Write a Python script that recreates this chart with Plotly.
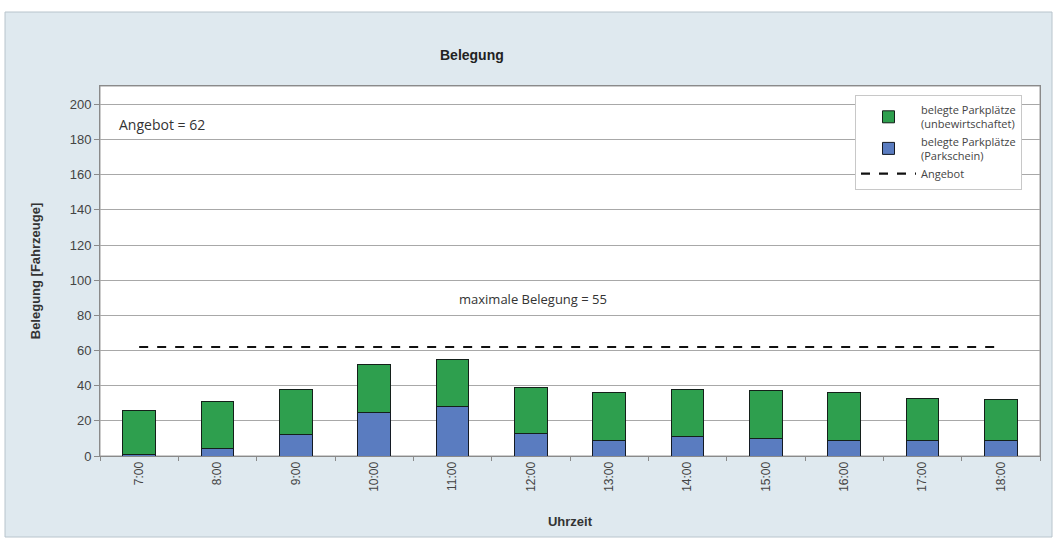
import plotly.graph_objects as go

hours = ["7:00", "8:00", "9:00", "10:00", "11:00", "12:00", "13:00", "14:00", "15:00", "16:00", "17:00", "18:00"]
parkschein = [1, 4, 12, 25, 28, 13, 9, 11, 10, 9, 9, 9]
unbewirtschaftet = [25, 27, 26, 27, 27, 26, 27, 27, 27, 27, 24, 23]
angebot = [62] * len(hours)
y_ticks = [0, 20, 40, 60, 80, 100, 120, 140, 160, 180, 200]

green = "#2e9f4e"
blue = "#5a7cc0"
font_main = "Liberation Sans, Arial, sans-serif"
font_cal = "Open Sans, Noto Sans, sans-serif"

fig = go.Figure()
fig.add_trace(go.Bar(
    x=hours, y=parkschein, name="belegte Parkplätze<br>(Parkschein)",
    marker=dict(color=blue, line=dict(color="#141a24", width=1)), legendrank=2,
))
fig.add_trace(go.Bar(
    x=hours, y=unbewirtschaftet, name="belegte Parkplätze<br>(unbewirtschaftet)",
    marker=dict(color=green, line=dict(color="#14201a", width=1)), legendrank=1,
))
fig.add_trace(go.Scatter(
    x=hours, y=angebot, name="Angebot", mode="lines",
    line=dict(color="#111111", width=2.2, dash="dash"), legendrank=3,
))

fig.update_layout(
    width=1057, height=542,
    margin=dict(l=100, r=17, t=86, b=86),
    paper_bgcolor="white",
    plot_bgcolor="white",
    barmode="stack",
    bargap=0.58,
    showlegend=True,
    legend=dict(
        x=(1022 - 100) / 940, y=1 - 9 / 370, xanchor="right", yanchor="top",
        traceorder="normal",
        bgcolor="white", bordercolor="#c8c8c8", borderwidth=1,
        font=dict(family=font_cal, size=11, color="#444444"),
        tracegroupgap=8, itemwidth=55,
    ),
    shapes=[
        dict(type="rect", xref="paper", yref="paper",
             x0=-95 / 940, x1=(1052 - 100) / 940, y0=-81 / 370, y1=1 + 74 / 370,
             fillcolor="#dfe9ef", line=dict(color="#b8c4cc", width=1), layer="below"),
        dict(type="rect", xref="paper", yref="paper", x0=0, x1=1, y0=0, y1=1,
             fillcolor="white", line=dict(color="#9a9a9a", width=1), layer="below"),
    ],
    annotations=[
        dict(text="<b>Belegung</b>", xref="paper", yref="paper",
             x=(472 - 100) / 940, y=1 + 31 / 370, yanchor="middle", showarrow=False,
             font=dict(family=font_main, size=14, color="#222222")),
        dict(text="Angebot = 62", xref="paper", yref="paper",
             x=(117 - 100) / 940, y=1 - 38 / 370, xanchor="left", yanchor="middle", showarrow=False,
             font=dict(family=font_cal, size=14, color="#333333")),
        dict(text="maximale Belegung = 55", xref="paper", yref="paper",
             x=(533 - 100) / 940, y=1 - 213 / 370, yanchor="middle", showarrow=False,
             font=dict(family=font_cal, size=13, color="#333333")),
    ],
)

fig.update_xaxes(
    title=dict(text="<b>Uhrzeit</b>", font=dict(family=font_main, size=13, color="#333333"), standoff=26),
    tickangle=-90,
    tickfont=dict(family=font_main, size=12, color="#444444"),
    showline=True, linecolor="#8a8a8a", mirror=True,
    ticks="outside", ticklen=4, tickcolor="#8a8a8a", tickson="boundaries",
    showgrid=False,
)
fig.update_yaxes(
    title=dict(text="<b>Belegung [Fahrzeuge]</b>", font=dict(family=font_main, size=13, color="#333333"), standoff=26),
    range=[0, 210.5], tickvals=y_ticks,
    tickfont=dict(family=font_main, size=13, color="#444444"),
    showline=True, linecolor="#8a8a8a", mirror=True,
    ticks="outside", ticklen=5, tickcolor="#8a8a8a",
    showgrid=True, gridcolor="#a8a8a8", gridwidth=1,
    zeroline=False,
)

fig.write_html("out.html")
